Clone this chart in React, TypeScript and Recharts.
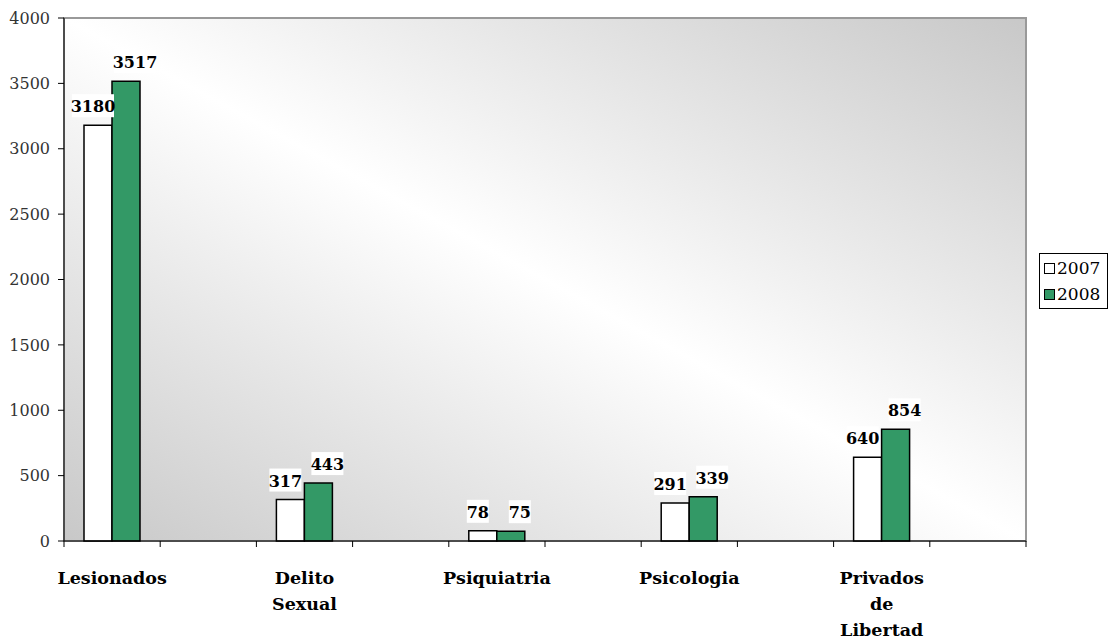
import React from "react"
import { BarChart, Bar, XAxis, YAxis, ReferenceArea, LabelList } from "recharts"

// categories incl. empty gap slots, as in the original sheet
const categories = ["Lesionados", "", "Delito Sexual", "", "Psiquiatria", "", "Psicologia", "", "Privados de Libertad", ""]
const values2007 = [3180, null, 317, null, 78, null, 291, null, 640, null]
const values2008 = [3517, null, 443, null, 75, null, 339, null, 854, null]
const yTicks = [0, 500, 1000, 1500, 2000, 2500, 3000, 3500, 4000]
const seriesNames = ["2007", "2008"]

const W = 1110
const H = 641
const PLOT_LEFT = 64
const PLOT_RIGHT = 1026
const GREEN = "#339966"
const FONT = "'DejaVu Serif', 'Liberation Serif', 'Noto Serif', serif"
const BAND = (PLOT_RIGHT - PLOT_LEFT) / categories.length

const data = categories.map((name, i) => ({
  key: `c${i}`,
  name,
  v2007: values2007[i],
  v2008: values2008[i],
}))

function CategoryTick(props: any) {
  const { x, y, index } = props
  const label = categories[index] || ""
  const lines = label ? label.split(" ") : []
  const isLast = index === categories.length - 1
  return (
    <g>
      <line x1={x - BAND / 2} x2={x - BAND / 2} y1={y} y2={y + 6} stroke="#000" strokeWidth={1} />
      {isLast && <line x1={x + BAND / 2} x2={x + BAND / 2} y1={y} y2={y + 6} stroke="#000" strokeWidth={1} />}
      {lines.map((ln: string, i: number) => (
        <text
          key={i}
          x={x}
          y={y + 43 + i * 26}
          textAnchor="middle"
          style={{ fontFamily: FONT }}
          fontSize={17.5}
          fontWeight="bold"
          fill="#000"
        >
          {ln}
        </text>
      ))}
    </g>
  )
}

// value labels sit in a small white box above each bar
function makeValueLabel(dx: number) {
  return (props: any) => {
    const { x, y, width, value } = props
    if (value == null) return null
    const cx = x + width / 2 + dx
    const txt = String(value)
    const w = txt.length * 10 + 2
    return (
      <g>
        <rect x={cx - w / 2} y={y - 31} width={w} height={23} fill="#fff" />
        <text x={cx} y={y - 13} textAnchor="middle" style={{ fontFamily: FONT }} fontSize={16} fontWeight="bold" fill="#000">
          {txt}
        </text>
      </g>
    )
  }
}

function LegendBox() {
  const colors = ["#fff", GREEN]
  return (
    <div
      style={{
        position: "absolute",
        left: 1039,
        top: 253,
        width: 67,
        height: 54,
        border: "1px solid #000",
        background: "#fff",
        fontFamily: FONT,
        fontSize: 17,
        boxSizing: "content-box",
      }}
    >
      {seriesNames.map((s, i) => (
        <div key={s} style={{ display: "flex", alignItems: "center", height: 26, marginTop: i === 0 ? 1 : 0, paddingLeft: 4 }}>
          <span
            style={{
              display: "inline-block",
              width: 9,
              height: 9,
              border: "1px solid #000",
              background: colors[i],
              marginRight: 2,
            }}
          />
          <span>{s}</span>
        </div>
      ))}
    </div>
  )
}

export default function App() {
  return (
    <div style={{ position: "absolute", left: 0, top: 0, width: W, height: H, background: "#fff" }}>
      <BarChart
        width={W}
        height={H}
        data={data}
        margin={{ top: 18, right: W - PLOT_RIGHT, bottom: 0, left: 0 }}
        barSize={28}
        barGap={0}
      >
        <defs>
          <linearGradient id="plotBg" x1="1" y1="0" x2="0" y2="1">
            <stop offset="0" stopColor="#c8c8c8" />
            <stop offset="0.5" stopColor="#ffffff" />
            <stop offset="1" stopColor="#c8c8c8" />
          </linearGradient>
        </defs>
        <ReferenceArea y1={0} y2={4000} fill="url(#plotBg)" fillOpacity={1} stroke="#999" strokeWidth={2} />
        <XAxis
          dataKey="key"
          height={100}
          tick={<CategoryTick />}
          tickLine={false}
          tickSize={0}
          tickMargin={0}
          interval={0}
          axisLine={{ stroke: "#000" }}
        />
        <YAxis
          width={PLOT_LEFT}
          domain={[0, 4000]}
          ticks={yTicks}
          interval={0}
          tickSize={6}
          tickMargin={8}
          axisLine={{ stroke: "#000" }}
          tickLine={{ stroke: "#000" }}
          tick={{ fontSize: 16, fill: "#333", style: { fontFamily: FONT } }}
        />
        <Bar dataKey="v2007" name="2007" fill="#fff" stroke="#000" strokeWidth={1.5} isAnimationActive={false}>
          <LabelList dataKey="v2007" content={makeValueLabel(-5)} />
        </Bar>
        <Bar dataKey="v2008" name="2008" fill={GREEN} stroke="#000" strokeWidth={1.5} isAnimationActive={false}>
          <LabelList dataKey="v2008" content={makeValueLabel(9)} />
        </Bar>
      </BarChart>
      <LegendBox />
    </div>
  )
}
